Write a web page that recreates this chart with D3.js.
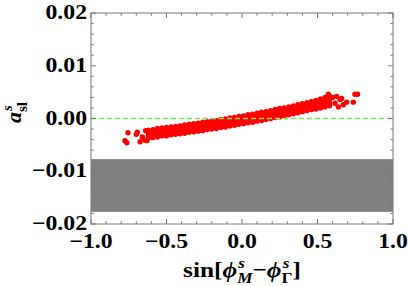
<!DOCTYPE html>
<html>
<head>
<meta charset="utf-8">
<script src="https://cdn.jsdelivr.net/npm/d3@7/dist/d3.min.js"></script>
<style>
  body { margin: 0; background: #fff; }
  text { font-family: "Liberation Serif", "Times New Roman", serif; font-weight: bold; }
</style>
</head>
<body>
<div id="chart"></div>
<script>
// tick values and labels
const xTickValues = [-1, -0.5, 0, 0.5, 1]
const xTickLabels = ['\u22121.0', '\u22120.5', '0.0', '0.5', '1.0']
const yTickValues = [-0.02, -0.01, 0, 0.01, 0.02]
const yTickLabels = ['\u22120.02', '\u22120.01', '0.00', '0.01', '0.02']

// excluded region (gray band) and reference line
const bandRange = [-0.0177, -0.0077]
const refLine = 0

// dense part of the scatter: [x, y1, y2, y3, y4] read column by column
const bandColumns = [
  [-0.62, -0.0037, -0.0032, -0.0027, -0.0022],
  [-0.59, -0.0036, -0.0031, -0.0026, -0.0021],
  [-0.56, -0.0035, -0.0030, -0.0025, -0.0019],
  [-0.53, -0.0033, -0.0028, -0.0023, -0.0018],
  [-0.50, -0.0033, -0.0027, -0.0022, -0.0017],
  [-0.47, -0.0031, -0.0026, -0.0021, -0.0016],
  [-0.44, -0.0030, -0.0025, -0.0020, -0.0015],
  [-0.41, -0.0029, -0.0024, -0.0019, -0.0014],
  [-0.38, -0.0028, -0.0023, -0.0018, -0.0012],
  [-0.35, -0.0026, -0.0021, -0.0016, -0.0011],
  [-0.32, -0.0025, -0.0020, -0.0015, -0.0010],
  [-0.29, -0.0024, -0.0019, -0.0014, -0.0009],
  [-0.26, -0.0023, -0.0018, -0.0013, -0.0007],
  [-0.23, -0.0021, -0.0016, -0.0011, -0.0006],
  [-0.20, -0.0020, -0.0015, -0.0010, -0.0005],
  [-0.17, -0.0019, -0.0014, -0.0009, -0.0004],
  [-0.14, -0.0017, -0.0012, -0.0007, -0.0002],
  [-0.11, -0.0016, -0.0011, -0.0006, -0.0001],
  [-0.08, -0.0014, -0.0009, -0.0004, 0.0001],
  [-0.05, -0.0013, -0.0008, -0.0003, 0.0002],
  [-0.02, -0.0011, -0.0006, -0.0001, 0.0004],
  [0.01, -0.0010, -0.0005, 0.0000, 0.0005],
  [0.04, -0.0008, -0.0003, 0.0002, 0.0007],
  [0.07, -0.0007, -0.0002, 0.0003, 0.0008],
  [0.10, -0.0005, 0.0000, 0.0005, 0.0010],
  [0.13, -0.0004, 0.0002, 0.0007, 0.0012],
  [0.16, -0.0002, 0.0003, 0.0008, 0.0013],
  [0.19, 0.0000, 0.0005, 0.0010, 0.0015],
  [0.22, 0.0002, 0.0007, 0.0012, 0.0017],
  [0.25, 0.0003, 0.0008, 0.0013, 0.0019],
  [0.28, 0.0005, 0.0010, 0.0015, 0.0020],
  [0.31, 0.0007, 0.0012, 0.0017, 0.0022],
  [0.34, 0.0009, 0.0014, 0.0019, 0.0024],
  [0.37, 0.0011, 0.0016, 0.0021, 0.0026],
  [0.40, 0.0013, 0.0018, 0.0023, 0.0028],
  [0.43, 0.0015, 0.0020, 0.0025, 0.0030],
  [0.46, 0.0017, 0.0022, 0.0027, 0.0032],
  [0.49, 0.0018, 0.0024, 0.0029, 0.0034],
  [0.52, 0.0020, 0.0026, 0.0032, 0.0037],
  [0.55, 0.0022, 0.0028, 0.0034, 0.0040],
  [0.58, 0.0024, 0.0030, 0.0036, 0.0042]
]

// loose points at both ends of the cloud
const outliers = [
  [-0.775, -0.0042], [-0.762, -0.0046], [-0.755, -0.0027], [-0.693, -0.0026],
  [-0.675, -0.0044], [-0.660, -0.0035], [-0.642, -0.0041], [-0.638, -0.0023],
  [-0.700, -0.0030], [-0.630, -0.0042],
  [0.572, 0.0046], [0.600, 0.0040], [0.616, 0.0029], [0.627, 0.0042],
  [0.638, 0.0022], [0.649, 0.0036], [0.660, 0.0038], [0.671, 0.0026],
  [0.693, 0.0031], [0.737, 0.0031], [0.748, 0.0046], [0.765, 0.0046]
]

const points = []
bandColumns.forEach(c => c.slice(1).forEach(y => points.push([c[0], y])))
outliers.forEach(p => points.push(p))

const width = 409
const height = 286
const margin = { left: 91, right: 16, top: 13, bottom: 62 }

const svg = d3.select('#chart').append('svg')
  .attr('width', width)
  .attr('height', height)

const x = d3.scaleLinear().domain([-1, 1]).range([margin.left, width - margin.right])
const y = d3.scaleLinear().domain([-0.02, 0.02]).range([height - margin.bottom, margin.top])

const plot = svg.append('g')

// gray band
plot.append('rect')
  .attr('x', x(-1))
  .attr('y', y(bandRange[1]))
  .attr('width', x(1) - x(-1))
  .attr('height', y(bandRange[0]) - y(bandRange[1]))
  .attr('fill', '#7f7f7f')

// scatter
plot.append('g').selectAll('circle')
  .data(points)
  .join('circle')
  .attr('cx', d => x(d[0]))
  .attr('cy', d => y(d[1]))
  .attr('r', 2.7)
  .attr('fill', '#ff0000')

// dashed reference line
plot.append('line')
  .attr('x1', x(-1)).attr('x2', x(1))
  .attr('y1', y(refLine)).attr('y2', y(refLine))
  .attr('stroke', '#66ee55')
  .attr('stroke-width', 1.4)
  .attr('stroke-dasharray', '5,3')

// frame with inward ticks on all sides
const frameColor = '#777'
const axisG = svg.append('g').attr('stroke', frameColor).attr('stroke-width', 1).attr('fill', 'none')
axisG.append('rect')
  .attr('x', x(-1)).attr('y', y(0.02))
  .attr('width', x(1) - x(-1)).attr('height', y(-0.02) - y(0.02))

const major = 5, minor = 2.7
const isMajor = (v, list) => list.some(m => Math.abs(m - v) < 1e-9)

x.ticks(20).forEach(v => {
  const len = isMajor(v, xTickValues) ? major : minor
  axisG.append('line').attr('x1', x(v)).attr('x2', x(v)).attr('y1', y(-0.02)).attr('y2', y(-0.02) - len)
  axisG.append('line').attr('x1', x(v)).attr('x2', x(v)).attr('y1', y(0.02)).attr('y2', y(0.02) + len)
})
y.ticks(20).forEach(v => {
  const len = isMajor(v, yTickValues) ? major : minor
  axisG.append('line').attr('y1', y(v)).attr('y2', y(v)).attr('x1', x(-1)).attr('x2', x(-1) + len)
  axisG.append('line').attr('y1', y(v)).attr('y2', y(v)).attr('x1', x(1)).attr('x2', x(1) - len)
})

// tick labels (slightly widened like the original rendering)
const labelSize = 21
const stretch = 1.13
svg.append('g').selectAll('text')
  .data(xTickValues)
  .join('text')
  .attr('transform', d => `translate(${x(d)},${y(-0.02) + 24}) scale(${stretch},1)`)
  .attr('text-anchor', 'middle')
  .attr('font-size', labelSize)
  .text((d, i) => xTickLabels[i])

svg.append('g').selectAll('text')
  .data(yTickValues)
  .join('text')
  .attr('transform', d => `translate(${x(-1) - 4},${y(d) + 6}) scale(${stretch},1)`)
  .attr('text-anchor', 'end')
  .attr('font-size', labelSize)
  .text((d, i) => yTickLabels[i])

// rich text helper: base glyphs with stacked super/subscripts
function richText(g, parts, size) {
  let cx = 0
  parts.forEach(p => {
    const t = g.append('text')
      .attr('x', cx).attr('y', 0)
      .attr('font-size', size)
      .attr('font-style', p.italic ? 'italic' : 'normal')
      .text(p.text)
    cx += t.node().getComputedTextLength()
    let w = 0
    if (p.sup) {
      const s = g.append('text')
        .attr('x', cx + 1).attr('y', -size * 0.42)
        .attr('font-size', size * 0.68)
        .attr('font-style', 'italic')
        .text(p.sup)
      w = Math.max(w, s.node().getComputedTextLength() + 1)
    }
    if (p.sub) {
      const s = g.append('text')
        .attr('x', cx).attr('y', size * 0.28)
        .attr('font-size', size * 0.68)
        .attr('font-style', p.subItalic ? 'italic' : 'normal')
        .text(p.sub)
      w = Math.max(w, s.node().getComputedTextLength())
    }
    cx += w
  })
  return cx
}

// x axis title
const xt = svg.append('g')
const xw = richText(xt, [
  { text: 'sin[' },
  { text: '\u03d5', italic: true, sup: 's', sub: 'M', subItalic: true },
  { text: '\u2212' },
  { text: '\u03d5', italic: true, sup: 's', sub: '\u0393' },
  { text: ']' }
], 22)
const xs = 1.15
xt.attr('transform', `translate(${(x(-1) + x(1)) / 2 - xw * xs / 2}, 277) scale(${xs},1)`)

// y axis title
const yt = svg.append('g')
const yw = richText(yt, [
  { text: 'a', italic: true, sup: 's', sub: 'sl' }
], 22)
yt.attr('transform', `translate(21, ${y(0) - 6 + yw / 2}) rotate(-90)`)
</script>
</body>
</html>
